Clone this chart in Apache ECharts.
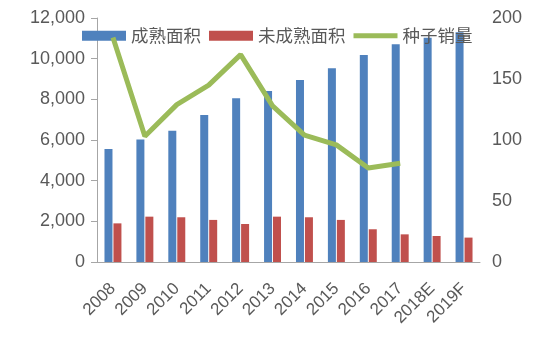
<!DOCTYPE html>
<html><head><meta charset="utf-8">
<script src="https://cdn.jsdelivr.net/npm/echarts@6/dist/echarts.min.js"></script>
<style>html,body{margin:0;padding:0;background:#fff}#c{width:550px;height:340px}</style>
</head><body><div id="c"></div>
<script>
const categories = ['2008','2009','2010','2011','2012','2013','2014','2015','2016','2017','2018E','2019F'];
const matureArea = [5560, 6030, 6460, 7230, 8050, 8410, 8950, 9530, 10180, 10710, 11030, 11300];
const immatureArea = [1900, 2230, 2200, 2070, 1870, 2230, 2200, 2070, 1610, 1360, 1280, 1200];
const seedSales = [184, 103, 129, 145, 170, 128, 104, 96, 77, 81, null, null];
const leftTicks = {min: 0, max: 12000, interval: 2000};
const rightTicks = {min: 0, max: 200, interval: 50};

const chart = echarts.init(document.getElementById('c'));
const txt = '#595959';
const font = 'Liberation Sans, Arial, sans-serif';
chart.setOption({
  animation: false,
  grid: {left: 97, right: 70, top: 18, bottom: 78},
  legend: {
    left: 77, top: 22, itemWidth: 44, itemHeight: 10, itemGap: 8,
    textStyle: {fontSize: 17.5, color: txt, fontFamily: 'Noto Sans CJK SC'},
    data: [
      {name: '成熟面积', icon: 'rect'},
      {name: '未成熟面积', icon: 'rect'},
      {name: '种子销量', icon: 'path://M0,0M44,10M0,2.5H44V7.5H0Z'}
    ]
  },
  xAxis: {
    type: 'category', data: categories,
    axisLine: {lineStyle: {color: '#A6A6A6', width: 1}},
    axisTick: {show: false},
    axisLabel: {rotate: 45, fontSize: 17, color: txt, fontFamily: font, margin: 24, interval: 0}
  },
  yAxis: [{
    type: 'value', min: leftTicks.min, max: leftTicks.max, interval: leftTicks.interval,
    axisLine: {show: true, lineStyle: {color: '#A6A6A6'}},
    axisTick: {show: true, length: 6, lineStyle: {color: '#A6A6A6'}},
    splitLine: {show: false},
    axisLabel: {fontSize: 18, color: txt, fontFamily: font, margin: 12,
      formatter: v => v.toLocaleString('en-US')}
  }, {
    type: 'value', min: rightTicks.min, max: rightTicks.max, interval: rightTicks.interval,
    axisLine: {show: false}, axisTick: {show: false}, splitLine: {show: false},
    axisLabel: {fontSize: 18, color: txt, fontFamily: font, margin: 12}
  }],
  series: [{
    name: '成熟面积', type: 'bar', data: matureArea, barWidth: 8, barGap: '12%',
    itemStyle: {color: '#4F81BD'}
  }, {
    name: '未成熟面积', type: 'bar', data: immatureArea, barWidth: 8,
    itemStyle: {color: '#C0504D'}
  }, {
    name: '种子销量', type: 'line', yAxisIndex: 1, data: seedSales, symbol: 'none',
    lineStyle: {color: '#9BBB59', width: 5}, itemStyle: {color: '#9BBB59'}, z: 5
  }]
});
</script></body></html>
